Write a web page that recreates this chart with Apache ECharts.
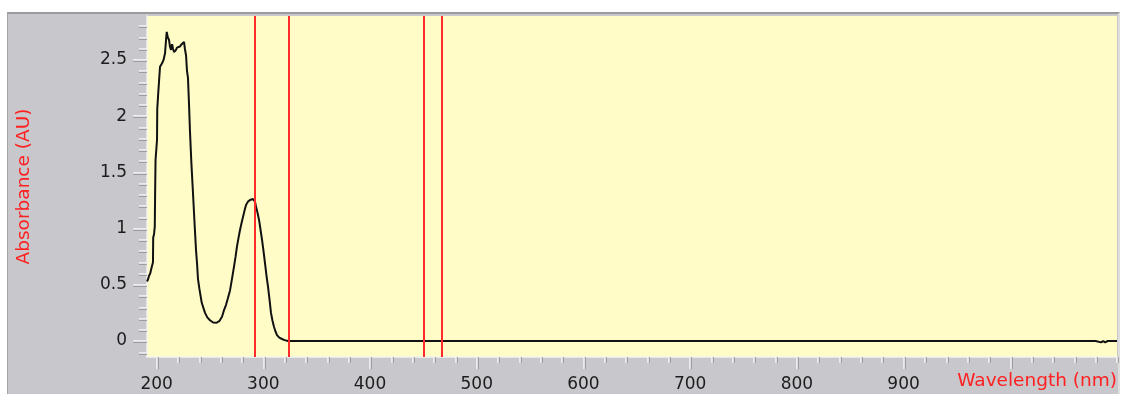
<!DOCTYPE html>
<html>
<head>
<meta charset="utf-8">
<title>Absorbance spectrum</title>
<script src="https://cdn.jsdelivr.net/npm/echarts@6.0.0/dist/echarts.min.js"></script>
<style>
  html, body { margin: 0; padding: 0; background: #ffffff; }
  #panel {
    position: absolute; left: 7px; top: 12px; width: 1113px; height: 382px;
    background: #c8c7cc; box-sizing: border-box;
    border-top: 2px solid #9b9b9b; border-left: 1px solid #a4a4a4; border-right: 2px solid #dedede;
  }
  #main { position: absolute; left: 0; top: 0; width: 1121px; height: 394px; }
</style>
</head>
<body>
<div id="panel"></div>
<div id="main"></div>
<script>
// spectrum (nm, AU)
var wavelength = [
  191.0, 192.0, 192.9, 194.0, 194.7, 195.5, 196.6, 196.8, 197.6, 198.3,
  198.6, 199.0, 200.4, 200.6, 201.5, 203.2, 205.1, 206.5, 207.9, 209.0,
  209.5, 210.5, 211.6, 212.5, 213.5, 214.5, 215.4, 216.3, 217.2, 218.2,
  219.1, 220.5, 221.9, 223.5, 225.7, 226.5, 227.6, 228.5, 229.4, 230.4,
  231.3, 232.5, 233.8, 235.0, 236.0, 237.0, 237.9, 238.8, 240.0, 240.7,
  242.3, 244.0, 245.4, 247.5, 250.0, 253.0, 256.3, 259.0, 261.3, 263.0,
  265.0, 266.8, 268.8, 270.6, 272.5, 274.0, 275.3, 276.8, 278.2, 279.6,
  281.0, 282.4, 283.8, 285.6, 287.5, 289.0, 290.3, 291.5, 292.2, 293.2,
  294.6, 296.0, 297.4, 298.8, 300.2, 301.6, 303.0, 304.4, 305.8, 307.2,
  308.6, 310.0, 311.4, 312.8, 315.0, 317.5, 320.0, 323.1, 330, 350,
  400, 450, 500, 550, 600, 650, 700, 750, 800, 850,
  900, 950, 1000, 1050, 1080, 1085, 1087, 1089, 1091, 1100
];
var absorbance = [
  0.53, 0.55, 0.58, 0.60, 0.63, 0.66, 0.70, 0.92, 0.95, 1.02,
  1.30, 1.61, 1.79, 2.06, 2.20, 2.44, 2.47, 2.50, 2.56, 2.70,
  2.75, 2.70, 2.68, 2.62, 2.59, 2.64, 2.60, 2.57, 2.56, 2.59,
  2.61, 2.60, 2.62, 2.64, 2.66, 2.60, 2.54, 2.40, 2.34, 2.10,
  1.86, 1.60, 1.37, 1.15, 0.97, 0.80, 0.69, 0.55, 0.47, 0.43,
  0.34, 0.29, 0.25, 0.21, 0.185, 0.165, 0.163, 0.18, 0.216, 0.27,
  0.32, 0.38, 0.45, 0.55, 0.66, 0.75, 0.84, 0.92, 0.99, 1.05,
  1.106, 1.16, 1.21, 1.24, 1.254, 1.26, 1.263, 1.26, 1.24, 1.195,
  1.14, 1.077, 0.99, 0.90, 0.80, 0.69, 0.58, 0.483, 0.37, 0.25,
  0.18, 0.127, 0.085, 0.053, 0.03, 0.018, 0.008, 0.0, 0.0, 0.0,
  0.0, 0.0, 0.0, 0.0, 0.0, 0.0, 0.0, 0.0, 0.0, 0.0,
  0.0, 0.0, 0.0, 0.0, 0.0, -0.012, 0.0, -0.012, 0.0, 0.0
];

// red cursor lines (nm)
var cursorNm = [292.2, 324.0, 450.6, 467.2];

// ticks
var xLabelValues = [200, 300, 400, 500, 600, 700, 800, 900];
var xMajorTicks = [200, 300, 400, 500, 600, 700, 800, 900, 1000];
var xMinorTicks = [200, 220, 240, 260, 280, 300, 320, 340, 360, 380, 400, 420, 440, 460, 480,
  500, 520, 540, 560, 580, 600, 620, 640, 660, 680, 700, 720, 740, 760, 780, 800, 820, 840,
  860, 880, 900, 920, 940, 960, 980, 1000, 1020, 1040, 1060, 1080, 1100];
var yLabelValues = [0, 0.5, 1, 1.5, 2, 2.5];
var yMinorTicks = [-0.1, 0, 0.1, 0.2, 0.3, 0.4, 0.5, 0.6, 0.7, 0.8, 0.9, 1, 1.1, 1.2, 1.3, 1.4,
  1.5, 1.6, 1.7, 1.8, 1.9, 2, 2.1, 2.2, 2.3, 2.4, 2.5, 2.6, 2.7, 2.8];

var xMin = 191, xMax = 1100;
var yMin = -0.142, yMax = 2.891;

var font = '"DejaVu Sans", Verdana, sans-serif';
var tickStyleY = { color: '#f6f6f6', width: 1.5, shadowColor: '#8e8e8e', shadowOffsetY: 1 };
var tickStyleX = { color: '#f6f6f6', width: 1.5, shadowColor: '#8e8e8e', shadowOffsetX: 1 };

var points = wavelength.map(function (w, i) { return [w, absorbance[i]]; });

var myChart = echarts.init(document.getElementById('main'), null, { renderer: 'canvas' });
myChart.setOption({
  animation: false,
  grid: {
    left: 147, top: 16, width: 970, height: 341,
    show: true, backgroundColor: '#fffcc8', borderWidth: 0
  },
  graphic: [{
    type: 'text',
    right: 4,
    top: 372,
    style: { text: 'Wavelength (nm)', fill: '#ff2020', font: '18.5px ' + font }
  }],
  xAxis: [{
    type: 'value', min: xMin, max: xMax,
    splitLine: { show: false },
    axisLine: { show: true, onZero: false, lineStyle: { color: '#f2f2f2', width: 1.5 } },
    axisTick: { show: true, length: 12, customValues: xMajorTicks, lineStyle: tickStyleX },
    axisLabel: { customValues: xLabelValues, margin: 19, color: '#1c1c1c', fontSize: 17, fontFamily: font }
  }, {
    type: 'value', min: xMin, max: xMax, position: 'bottom',
    splitLine: { show: false },
    axisLine: { show: false, onZero: false },
    axisLabel: { show: false },
    axisTick: { show: true, length: 6, customValues: xMinorTicks, lineStyle: tickStyleX }
  }],
  yAxis: [{
    type: 'value', min: yMin, max: yMax,
    name: 'Absorbance (AU)', nameLocation: 'middle', nameGap: 113, nameRotate: 90,
    nameTextStyle: { color: '#ff2020', fontSize: 18.5, fontFamily: font },
    splitLine: { show: false },
    axisLine: { show: true, onZero: false, lineStyle: { color: '#f2f2f2', width: 1.5 } },
    axisTick: { show: true, length: 14, customValues: yLabelValues, lineStyle: tickStyleY },
    axisLabel: { customValues: yLabelValues, margin: 20, color: '#1c1c1c', fontSize: 17, fontFamily: font }
  }, {
    type: 'value', min: yMin, max: yMax, position: 'left',
    splitLine: { show: false },
    axisLine: { show: false, onZero: false },
    axisLabel: { show: false },
    axisTick: { show: true, length: 8, customValues: yMinorTicks, lineStyle: tickStyleY }
  }],
  series: [{
    type: 'line',
    xAxisIndex: 0,
    yAxisIndex: 0,
    data: points,
    showSymbol: false,
    lineStyle: { color: '#111111', width: 2 },
    markLine: {
      silent: true,
      symbol: ['none', 'none'],
      label: { show: false },
      lineStyle: { color: '#ff2b2b', width: 2, type: 'solid' },
      data: cursorNm.map(function (v) { return { xAxis: v }; })
    }
  }]
});
</script>
</body>
</html>
